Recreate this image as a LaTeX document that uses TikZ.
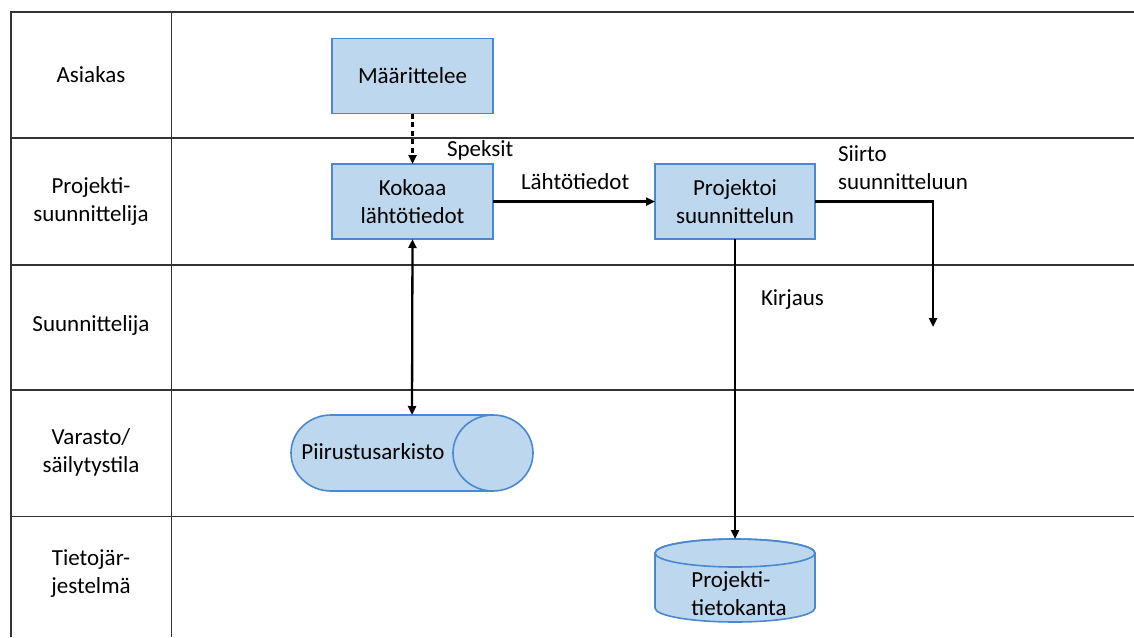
\documentclass[tikz,border=0pt]{standalone}
\usepackage{fontspec}
\setmainfont{Carlito}
\usetikzlibrary{arrows.meta}
\definecolor{boxfill}{HTML}{BDD7EE}
\definecolor{boxline}{HTML}{4A89CF}
\definecolor{gridline}{HTML}{333333}
\begin{document}
\begin{tikzpicture}[x=1pt,y=-1pt,
  every node/.style={font=\fontsize{23}{28}\selectfont, inner sep=0pt, outer sep=0pt},
  grid/.style={draw=gridline, line width=1.7pt},
  shapeline/.style={draw=boxline, line width=1.6pt},
  procbox/.style={shapeline, fill=boxfill, minimum width=161pt, minimum height=75pt, align=center},
  flow/.style={draw=black, line width=2.3pt, -{Triangle[length=9pt,width=8pt]}},
  lane/.style={align=center},
  lbl/.style={align=left, anchor=west}]
\useasboundingbox (0,0) rectangle (1134,637);

% swimlane grid
\draw[grid] (10.7,637) -- (10.7,11.7) -- (1134,11.7);
\draw[grid] (171.4,11.7) -- (171.4,637);
\foreach \yy in {138,265,390,516.5}
  \draw[grid] (10.7,\yy) -- (1134,\yy);

% lane titles
\node[lane] (l1) at (91,75) {Asiakas};
\node[lane] (l2) at (91,201) {Projekti-\\suunnittelija};
\node[lane] (l3) at (91,325) {Suunnittelija};
\node[lane] (l4) at (91,452) {Varasto/\\säilytystila};
\node[lane] (l5) at (91,574) {Tietojär-\\jestelmä};

% process boxes
\node[procbox] (maar) at (412.5,76) {Määrittelee};
\node[procbox] (kok) at (412.5,201.5) {Kokoaa\\lähtötiedot};
\node[procbox, minimum width=160pt] (proj) at (735,201.5) {Projektoi\\suunnittelun};

% drawing archive (horizontal cylinder)
\node[minimum width=242pt, minimum height=76pt] (arch) at (412,453) {};
\fill[boxfill] (331,415) -- (493,415) arc(-90:90:40 and 38) -- (331,491) arc(90:270:40 and 38) -- cycle;
\draw[shapeline] (493,415) -- (331,415) arc(270:90:40 and 38) -- (493,491);
\draw[shapeline, fill=boxfill] (493,453) ellipse (40 and 38);
\node (archtxt) at (373,452) {Piirustusarkisto};

% project database (vertical cylinder)
\node[minimum width=160pt, minimum height=83pt] (db) at (735,580.5) {};
\draw[shapeline, fill=boxfill] (655,553) -- (655,608) arc(180:0:80 and 14) -- (815,553) arc(0:-180:80 and 14) -- cycle;
\draw[shapeline] (735,553) ellipse (80 and 14);
\node[align=left] (dbtxt) at (739,593.5) {Projekti-\\tietokanta};

% connectors
\draw[flow, dash pattern=on 5pt off 3.5pt] (maar.south) -- (kok.north);
\draw[flow] (kok.east) -- (proj.west);
\draw[flow, {Triangle[length=9pt,width=8pt]}-{Triangle[length=9pt,width=8pt]}] (kok.south) -- (arch.north);
\draw[flow] (proj.south) -- (db.north);
\coordinate (siirtoEnd) at (933,327);
\draw[flow] (proj.east) -| (siirtoEnd);

% connector labels
\node[lbl] (speksit) at (447,150) {Speksit};
\node[lbl] (lahto) at (521,182) {Lähtötiedot};
\node[lbl] (siirto) at (838,168) {Siirto\\suunnitteluun};
\node[lbl] (kirjaus) at (761,300) {Kirjaus};
\end{tikzpicture}
\end{document}
